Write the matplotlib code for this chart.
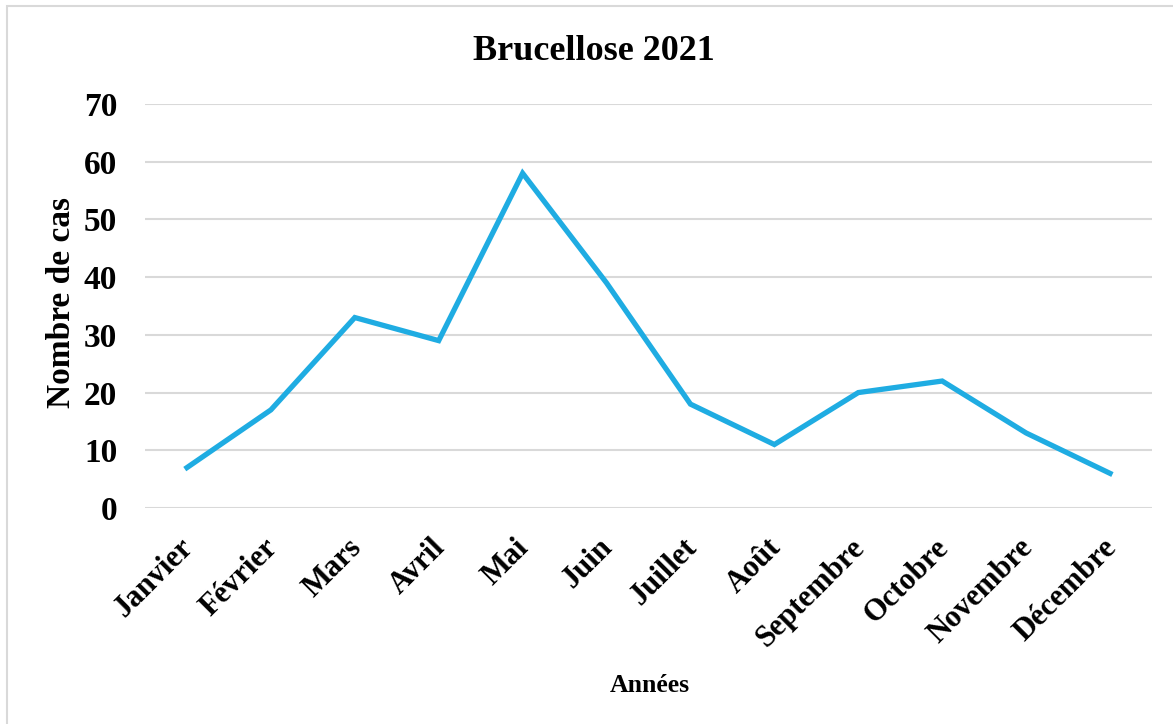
import matplotlib
matplotlib.use("Agg")
import matplotlib.pyplot as plt
from matplotlib.patches import Rectangle
import matplotlib.transforms as mtransforms

months = ["Janvier", "Février", "Mars", "Avril", "Mai", "Juin", "Juillet",
          "Août", "Septembre", "Octobre", "Novembre", "Décembre"]
cases = [7, 17, 33, 29, 58, 39, 18, 11, 20, 22, 13, 6]
yticks = [0, 10, 20, 30, 40, 50, 60, 70]

plt.rcParams['font.family'] = ['Liberation Serif', 'DejaVu Serif']
plt.rcParams['font.weight'] = 'bold'

W, H = 1173, 724
fig = plt.figure(figsize=(W / 100, H / 100), dpi=100)
ax = fig.add_axes([145 / W, 1 - 508 / H, (1152 - 145) / W, (508 - 104) / H])

x = list(range(len(months)))
ax.plot(x, cases, color='#1FACE2', linewidth=3.8, solid_joinstyle='miter', zorder=3)

ax.set_xlim(-0.5, len(months) - 0.5)
ax.set_ylim(0, 70)
ax.set_yticks(yticks)
ax.set_yticklabels([str(v) for v in yticks], fontsize=24, fontweight='bold')
ax.set_xticks(x)
ax.set_xticklabels(months, rotation=45, ha='right', rotation_mode='anchor',
                   fontsize=22, fontweight='bold')
ax.tick_params(axis='both', length=0)
ax.tick_params(axis='y', pad=20)
ax.tick_params(axis='x', pad=18)
offset = mtransforms.ScaledTranslation(-8 / 100, 0, fig.dpi_scale_trans)
for lab in ax.get_xticklabels():
    lab.set_transform(lab.get_transform() + offset)
ax.grid(axis='y', color='#D9D9D9', linewidth=1.5, zorder=0)
ax.set_axisbelow(True)
for s in ax.spines.values():
    s.set_visible(False)

fig.text(62 / W, 1 - 302 / H, "Nombre de cas", rotation=90, ha='center',
         va='center', fontsize=24, fontweight='bold')
fig.text(650 / W, 1 - 685 / H, "Années", ha='center', va='center',
         fontsize=18.5, fontweight='bold')
fig.text(594 / W, 1 - 51 / H, "Brucellose 2021", ha='center', va='center',
         fontsize=26, fontweight='bold')

fig.patches.append(Rectangle((7 / W, -0.05), 1.1, 1 - 6 / H + 0.05,
                             transform=fig.transFigure, fill=False,
                             edgecolor='#D9D9D9', linewidth=1.5))

fig.savefig("out.png", dpi=100)
